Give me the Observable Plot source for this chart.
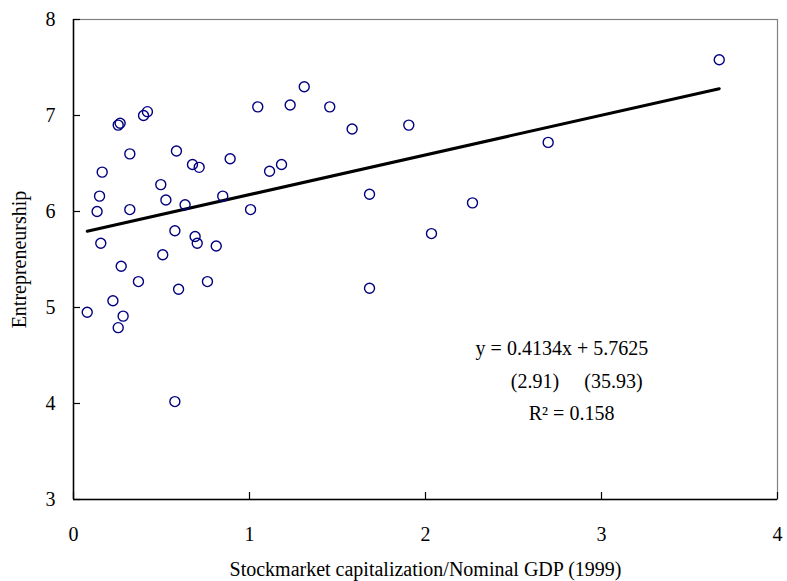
<!DOCTYPE html>
<html>
<head>
<meta charset="utf-8">
<script src="https://cdn.jsdelivr.net/npm/d3@7"></script>
<script src="https://cdn.jsdelivr.net/npm/@observablehq/plot@0.6"></script>
<style>
  html, body { margin: 0; padding: 0; background: #fff; }
  #chart { width: 787px; height: 581px; }
</style>
</head>
<body>
<div id="chart"></div>
<script>
// Stockmarket capitalization / nominal GDP (1999)
const stockCap = [
  0.078, 0.134, 0.148, 0.155, 0.163, 0.224, 0.254, 0.265, 0.254, 0.271,
  0.282, 0.320, 0.320, 0.369, 0.398, 0.420, 0.496, 0.507, 0.525, 0.576,
  0.576, 0.585, 0.597, 0.634, 0.676, 0.691, 0.703, 0.714, 0.761, 0.811,
  0.848, 0.890, 1.006, 1.047, 1.114, 1.182, 1.231, 1.311, 1.456, 1.583,
  1.682, 1.682, 1.905, 2.034, 2.267, 2.697, 3.669
];
// Entrepreneurship
const entrepreneurship = [
  4.95, 6.00, 6.16, 5.67, 6.41, 5.07, 6.90, 6.92, 4.79, 5.43,
  4.91, 6.60, 6.02, 5.27, 7.00, 7.04, 6.28, 5.55, 6.12, 5.80,
  4.02, 6.63, 5.19, 6.07, 6.49, 5.74, 5.67, 6.46, 5.27, 5.64,
  6.16, 6.55, 6.02, 7.09, 6.42, 6.49, 7.11, 7.30, 7.09, 6.86,
  6.18, 5.20, 6.90, 5.77, 6.09, 6.72, 7.58
];
const slope = 0.4134;
const intercept = 5.7625;
const tStats = ["(2.91)", "(35.93)"];
const rSquared = "0.158";
const xTicks = [0, 1, 2, 3, 4];
const yTicks = [3, 4, 5, 6, 7, 8];
const xLabel = "Stockmarket capitalization/Nominal GDP (1999)";
const yLabel = "Entrepreneurship";

const points = stockCap.map((x, i) => ({x, y: entrepreneurship[i]}));
const xMin = d3.min(stockCap), xMax = d3.max(stockCap);
const fit = [xMin, xMax].map(x => ({x, y: intercept + slope * x}));

const font = "'Times New Roman', 'Liberation Serif', serif";

const chart = Plot.plot({
  width: 787,
  height: 581,
  marginLeft: 73,
  marginRight: 10,
  marginTop: 19,
  marginBottom: 82,
  x: {domain: [0, 4]},
  y: {domain: [3, 8]},
  style: {fontFamily: font, fontSize: "20px", color: "black", background: "white"},
  marks: [
    Plot.frame({stroke: "#808080", strokeWidth: 1.2}),
    Plot.axisY({ticks: yTicks, tickFormat: "d", tickSize: 0, tickPadding: 18, fontSize: 20,
      label: yLabel, labelAnchor: "center", labelArrow: "none", labelOffset: 62}),
    Plot.axisY({ticks: yTicks, tickSize: -7, text: null, label: null, strokeWidth: 1.2}),
    Plot.axisX({ticks: xTicks, tickFormat: "d", tickSize: 0, tickPadding: 27, fontSize: 20,
      label: xLabel, labelAnchor: "center", labelArrow: "none", labelOffset: 76}),
    Plot.axisX({ticks: xTicks, tickSize: -7, text: null, label: null, strokeWidth: 1.2}),
    Plot.ruleX([0], {stroke: "black", strokeWidth: 1.5}),
    Plot.ruleY([3], {stroke: "black", strokeWidth: 1.5}),
    Plot.line(fit, {x: "x", y: "y", stroke: "black", strokeWidth: 3}),
    Plot.dot(points, {x: "x", y: "y", r: 5, stroke: "#000080", strokeWidth: 1.4, fill: "none"}),
    Plot.text([`y = ${slope}x + ${intercept}`], {x: 2.775, y: 4.57, fontSize: 20, fill: "black"}),
    Plot.text([tStats[0]], {x: 2.622, y: 4.224, fontSize: 20, fill: "black"}),
    Plot.text([tStats[1]], {x: 3.068, y: 4.224, fontSize: 20, fill: "black"}),
    Plot.text([`R\u00B2 = ${rSquared}`], {x: 2.83, y: 3.90, fontSize: 20, fill: "black"})
  ]
});
document.getElementById("chart").appendChild(chart);
</script>
</body>
</html>
